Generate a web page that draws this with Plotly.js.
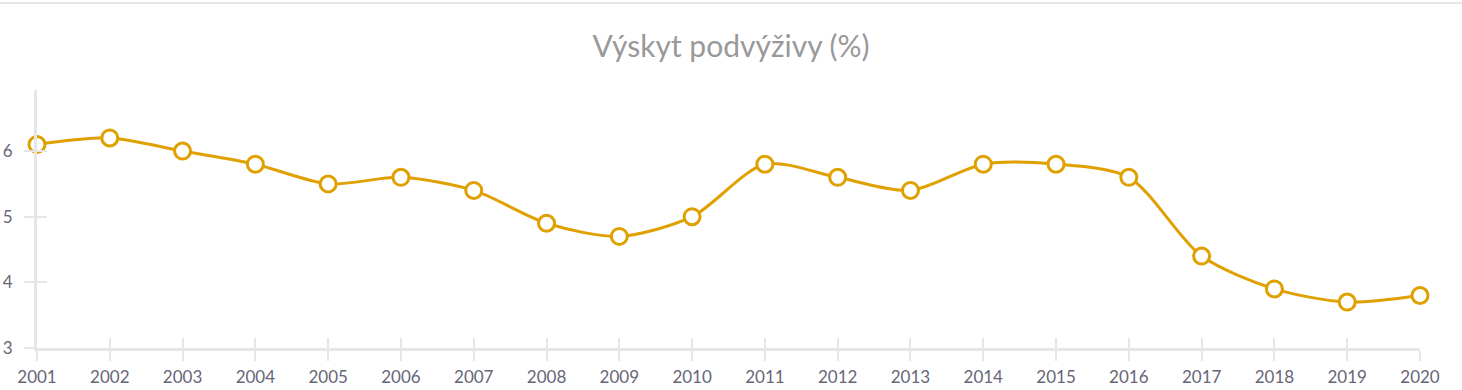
<!DOCTYPE html>
<html>
<head>
<meta charset="utf-8">
<script src="https://cdn.plot.ly/plotly-3.0.1.min.js"></script>
<style>
  html, body { margin: 0; padding: 0; background: #fff; }
  #topline { position: absolute; left: 0; top: 2px; width: 1462px; height: 2px; background: #e6e6e6; z-index: 2; }
  #chart { width: 1462px; height: 390px; }
</style>
</head>
<body>
<div id="topline"></div>
<div id="chart"></div>
<script>
const years = [2001, 2002, 2003, 2004, 2005, 2006, 2007, 2008, 2009, 2010,
               2011, 2012, 2013, 2014, 2015, 2016, 2017, 2018, 2019, 2020];
const undernourishment = [6.1, 6.2, 6.0, 5.8, 5.5, 5.6, 5.4, 4.9, 4.7, 5.0,
                          5.8, 5.6, 5.4, 5.8, 5.8, 5.6, 4.4, 3.9, 3.7, 3.8];
const yTicks = [3, 4, 5, 6];
const chartTitle = "Výskyt podvýživy (%)";

const gold = "#dfa000";
const axisGrey = "#e6e6e6";
const labelColor = "#666677";

const trace = {
  x: years,
  y: undernourishment,
  type: "scatter",
  mode: "lines+markers",
  line: { shape: "spline", smoothing: 0.8, color: gold, width: 3 },
  marker: { size: 16, color: "#ffffff", line: { color: gold, width: 3 } },
  cliponaxis: false,
  hoverinfo: "x+y"
};

const yRange = [3, 6.93];
const xRange = [2001, 2020];

const layout = {
  width: 1462,
  height: 390,
  margin: { l: 37, r: 42, t: 90, b: 42 },
  paper_bgcolor: "#ffffff",
  plot_bgcolor: "#ffffff",
  showlegend: false,
  font: { family: "Lato, 'Open Sans', sans-serif", color: labelColor, size: 17 },
  title: {
    text: chartTitle,
    font: { family: "Lato, 'Open Sans', sans-serif", size: 30, color: "#999999" },
    x: 0.5, xanchor: "center",
    y: 0.88, yanchor: "middle"
  },
  xaxis: {
    range: xRange,
    tickvals: years,
    ticktext: years.map(String),
    showgrid: false,
    zeroline: false,
    showline: true, linecolor: axisGrey, linewidth: 3,
    ticks: "outside", ticklen: 10, tickwidth: 2, tickcolor: axisGrey,
    ticklabelstandoff: 2,
    tickfont: { size: 17, color: labelColor },
    fixedrange: true
  },
  xaxis2: {
    overlaying: "x", anchor: "y",
    range: xRange,
    tickvals: years,
    showticklabels: false,
    showgrid: false, zeroline: false, showline: false,
    ticks: "inside", ticklen: 10, tickwidth: 2, tickcolor: axisGrey,
    fixedrange: true
  },
  yaxis: {
    range: yRange,
    tickvals: yTicks,
    showgrid: false,
    zeroline: false,
    showline: true, linecolor: axisGrey, linewidth: 3,
    ticks: "outside", ticklen: 10, tickwidth: 2, tickcolor: axisGrey,
    ticklabelstandoff: 8,
    tickfont: { size: 17, color: labelColor },
    fixedrange: true
  },
  yaxis2: {
    overlaying: "y", anchor: "x",
    range: yRange,
    tickvals: yTicks,
    showticklabels: false,
    showgrid: false, zeroline: false, showline: false,
    ticks: "inside", ticklen: 10, tickwidth: 2, tickcolor: axisGrey,
    fixedrange: true
  }
};

const ghost = { x: [years[0]], y: [yTicks[0]], xaxis: "x2", yaxis: "y2", type: "scatter", mode: "none", hoverinfo: "skip", showlegend: false };

Plotly.newPlot("chart", [ghost, trace], layout, { displayModeBar: false });
</script>
</body>
</html>
